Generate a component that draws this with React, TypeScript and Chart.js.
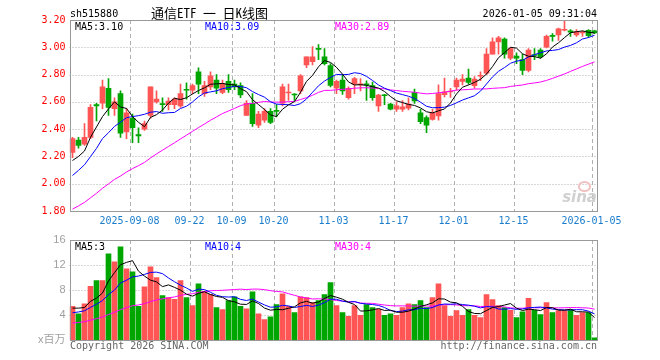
import React, { useEffect, useRef } from "react";
import { Chart, registerables } from "chart.js";

Chart.register(...registerables);

// ---------- data ----------
const dates = [
  "2025-08-25","2025-08-26","2025-08-27","2025-08-28","2025-08-29",
  "2025-09-01","2025-09-02","2025-09-03","2025-09-04","2025-09-05",
  "2025-09-08","2025-09-09","2025-09-10","2025-09-11","2025-09-12",
  "2025-09-15","2025-09-16","2025-09-17","2025-09-18","2025-09-19",
  "2025-09-22","2025-09-23","2025-09-24","2025-09-25","2025-09-26",
  "2025-09-29","2025-09-30",
  "2025-10-09","2025-10-10",
  "2025-10-13","2025-10-14","2025-10-15","2025-10-16","2025-10-17",
  "2025-10-20","2025-10-21","2025-10-22","2025-10-23","2025-10-24",
  "2025-10-27","2025-10-28","2025-10-29","2025-10-30","2025-10-31",
  "2025-11-03","2025-11-04","2025-11-05","2025-11-06","2025-11-07",
  "2025-11-10","2025-11-11","2025-11-12","2025-11-13","2025-11-14",
  "2025-11-17","2025-11-18","2025-11-19","2025-11-20","2025-11-21",
  "2025-11-24","2025-11-25","2025-11-26","2025-11-27","2025-11-28",
  "2025-12-01","2025-12-02","2025-12-03","2025-12-04","2025-12-05",
  "2025-12-08","2025-12-09","2025-12-10","2025-12-11","2025-12-12",
  "2025-12-15","2025-12-16","2025-12-17","2025-12-18","2025-12-19",
  "2025-12-22","2025-12-23","2025-12-24","2025-12-25","2025-12-26",
  "2025-12-29","2025-12-30","2025-12-31",
  "2026-01-05",
];

const tickDates = ["2025-09-08","2025-09-22","2025-10-09","2025-10-20","2025-11-03","2025-11-17","2025-12-01","2025-12-15","2026-01-05"];
const tickTexts = ["2025-09-08","09-22","10-09","10-20","11-03","11-17","12-01","12-15","2026-01-05"];

const opens = [
  2.23,2.32,2.29,2.34,2.58,2.59,2.70,2.55,2.66,2.38,
  2.48,2.36,2.40,2.50,2.60,2.585,2.58,2.58,2.57,2.69,
  2.685,2.82,2.66,2.71,2.76,2.67,2.75,2.73,2.72,2.50,
  2.59,2.43,2.465,2.53,2.535,2.59,2.665,2.655,2.68,2.87,
  2.895,2.99,2.93,2.865,2.70,2.76,2.63,2.73,2.725,2.73,
  2.72,2.57,2.65,2.583,2.546,2.546,2.553,2.67,2.52,2.485,
  2.472,2.497,2.652,2.672,2.71,2.75,2.774,2.718,2.788,2.81,
  2.95,3.04,3.06,2.92,2.935,2.91,2.83,2.945,2.98,3.00,
  3.085,3.09,3.125,3.12,3.09,3.105,3.125,3.12,
];
const closes = [
  2.33,2.28,2.34,2.56,2.57,2.71,2.56,2.60,2.37,2.52,
  2.41,2.35,2.44,2.71,2.62,2.58,2.605,2.62,2.66,2.685,
  2.72,2.73,2.72,2.79,2.70,2.735,2.69,2.71,2.65,2.59,
  2.44,2.51,2.53,2.45,2.53,2.71,2.67,2.65,2.79,2.93,
  2.93,2.985,2.88,2.72,2.75,2.68,2.70,2.77,2.73,2.725,
  2.63,2.65,2.645,2.546,2.57,2.563,2.583,2.607,2.455,2.43,
  2.52,2.66,2.674,2.676,2.76,2.767,2.742,2.767,2.792,2.95,
  3.04,3.07,2.95,2.99,2.92,2.83,2.98,2.94,2.93,3.08,
  3.08,3.135,3.13,3.11,3.115,3.11,3.085,3.105,
];
const highs = [
  2.34,2.34,2.44,2.58,2.59,2.76,2.77,2.63,2.68,2.55,
  2.51,2.41,2.46,2.71,2.68,2.63,2.63,2.63,2.73,2.74,
  2.73,2.85,2.75,2.82,2.80,2.76,2.80,2.76,2.74,2.61,
  2.66,2.53,2.55,2.55,2.58,2.73,2.73,2.66,2.80,2.93,
  3.005,3.02,2.99,2.88,2.76,2.80,2.71,2.78,2.77,2.755,
  2.745,2.655,2.656,2.59,2.60,2.61,2.63,2.693,2.546,2.497,
  2.546,2.725,2.774,2.70,2.775,2.80,2.84,2.785,2.82,2.99,
  3.07,3.08,3.07,3.00,2.96,2.95,2.99,2.99,2.99,3.09,
  3.10,3.14,3.20,3.13,3.13,3.12,3.13,3.125,
];
const lows = [
  2.19,2.26,2.28,2.33,2.46,2.55,2.50,2.50,2.34,2.33,
  2.30,2.30,2.39,2.48,2.59,2.53,2.54,2.55,2.56,2.62,
  2.66,2.66,2.64,2.69,2.66,2.66,2.67,2.69,2.63,2.50,
  2.42,2.41,2.45,2.44,2.49,2.57,2.61,2.61,2.66,2.85,
  2.87,2.91,2.87,2.71,2.66,2.655,2.62,2.66,2.68,2.61,
  2.61,2.53,2.58,2.54,2.53,2.53,2.54,2.588,2.44,2.374,
  2.465,2.465,2.637,2.632,2.685,2.725,2.73,2.70,2.755,2.80,
  2.95,2.95,2.92,2.91,2.88,2.80,2.82,2.91,2.92,2.995,
  3.045,3.05,3.12,3.08,3.08,3.08,3.075,3.10,
];
const volumes = [
  5.4,4.2,5.8,8.6,9.5,9.5,13.8,12.5,14.9,11.4,
  10.9,5.4,8.5,11.7,10.0,7.1,6.8,6.5,9.5,6.8,
  5.5,9.0,7.8,7.3,5.2,4.85,6.3,6.9,5.4,5.0,
  7.7,4.2,3.25,3.7,5.65,7.4,5.4,4.4,6.9,6.8,
  6.0,6.3,7.25,9.2,5.5,4.4,3.8,5.5,3.95,5.65,
  5.2,4.9,3.95,4.2,3.95,5.2,5.8,5.65,6.3,5.2,
  6.8,9.0,5.5,3.8,4.7,3.95,4.85,3.95,3.6,7.25,
  6.45,5.5,5.2,4.75,3.6,4.5,6.65,4.75,4.05,6.0,
  4.4,4.7,4.7,4.85,3.95,4.4,4.4,0.35,
];
// sessions before the visible window (only used to seed the moving averages)
const priorCloses = [
  1.55,1.57,1.56,1.58,1.60,1.59,1.62,1.63,1.64,1.66,
  1.70,1.72,1.74,1.73,1.76,1.79,1.80,1.82,1.86,1.88,
  1.90,1.93,1.96,1.97,1.99,2.13,2.14,2.06,2.19,
];
const priorVolumes = [
  1.6,2.0,1.7,1.9,1.5,1.8,2.1,1.7,1.9,1.8,
  1.8,2.2,1.9,2.1,1.7,2.0,2.3,1.9,2.0,2.1,
  2.8,3.9,3.2,4.4,3.7,4.2,5.3,3.6,7.0,
];

const priceAxisTicks = [1.8, 2.0, 2.2, 2.4, 2.6, 2.8, 3.0, 3.2];
const priceGridValues = [2.0, 2.2, 2.4, 2.6, 2.8, 3.0];
const volAxisTicks = [0, 4, 8, 12, 16];
const volGridValues = [4, 8, 12];
const priceMaLabels = ["MA5:3.10", "MA10:3.09", "MA30:2.89"];
const volMaLabels = ["MA5:3", "MA10:4", "MA30:4"];
const maColors = ["#000000", "#0000ff", "#ff00ff"];
const maPeriods = [5, 10, 30];

const RED = "#ff5555";
const GREEN = "#00a600";
const MONO = '"DejaVu Sans Mono", monospace';

function movingAvg(prior: number[], vals: number[], n: number): number[] {
  const all = prior.concat(vals);
  const off = prior.length;
  return vals.map((_, i) => {
    let s = 0;
    for (let k = 0; k < n; k++) s += all[off + i - k];
    return s / n;
  });
}

const framePlugin = {
  id: "frame",
  beforeDatasetsDraw(chart: any, _a: any, opts: any) {
    const { ctx, chartArea: a, scales } = chart;
    const x = scales.x;
    const y = scales.y;
    ctx.save();
    ctx.lineWidth = 1;
    ctx.strokeStyle = "#b0b0b0";
    ctx.setLineDash([1, 2]);
    for (const v of opts.hLines || []) {
      const py = Math.round(y.getPixelForValue(v)) + 0.5;
      ctx.beginPath();
      ctx.moveTo(a.left, py);
      ctx.lineTo(a.right, py);
      ctx.stroke();
    }
    ctx.setLineDash([4, 3]);
    const half = (x.getPixelForValue(1) - x.getPixelForValue(0)) / 2;
    for (const d of tickDates) {
      const i = dates.indexOf(d);
      const px = Math.round(x.getPixelForValue(i) - half) + 0.5;
      ctx.beginPath();
      ctx.moveTo(px, a.top);
      ctx.lineTo(px, a.bottom);
      ctx.stroke();
    }
    ctx.restore();
  },
  afterDraw(chart: any) {
    const { ctx, chartArea: a } = chart;
    ctx.save();
    ctx.setLineDash([]);
    ctx.strokeStyle = "#999999";
    ctx.lineWidth = 1;
    const l = Math.round(a.left) + 0.5;
    const t = Math.round(a.top) + 0.5;
    const r = Math.round(a.right) - 0.5;
    const b = Math.round(a.bottom) + 0.5;
    ctx.strokeRect(l, t, r - l, b - t);
    ctx.restore();
  },
};

function Txt(props: { x: number; y: number; color?: string; size?: number; right?: boolean; font?: string; children: any; style?: any }) {
  const size = props.size || 10;
  const lh = Math.round(size * 1.25);
  const st: any = {
    position: "absolute",
    top: props.y - lh / 2,
    fontFamily: props.font || MONO,
    fontSize: size,
    lineHeight: lh + "px",
    color: props.color || "#000",
    whiteSpace: "pre",
    ...(props.style || {}),
  };
  if (props.right) st.right = 660 - props.x;
  else st.left = props.x;
  return <div style={st}>{props.children}</div>;
}

export default function App() {
  const priceRef = useRef<HTMLCanvasElement>(null);
  const volRef = useRef<HTMLCanvasElement>(null);

  useEffect(() => {
    const candleColors = closes.map((c, i) => (c >= opens[i] ? RED : GREEN));
    const priceMAs = maPeriods.map((n) => movingAvg(priorCloses, closes, n));
    const volMAs = maPeriods.map((n) => movingAvg(priorVolumes, volumes, n));

    const lineSets = (mas: number[][]) =>
      mas.map((d, k) => ({
        type: "line" as const,
        label: "MA" + maPeriods[k],
        data: d,
        borderColor: maColors[k],
        borderWidth: 1,
        pointRadius: 0,
        tension: 0,
        order: 0,
      }));

    const xBase: any = {
      type: "category",
      offset: true,
      grid: { display: false, drawTicks: false },
      border: { display: false },
    };

    const price = new Chart(priceRef.current!, {
      type: "bar",
      data: {
        labels: dates,
        datasets: [
          ...lineSets(priceMAs),
          {
            type: "bar",
            label: "body",
            data: opens.map((o, i) => [o, closes[i]]),
            backgroundColor: candleColors,
            barThickness: 5,
            minBarLength: 1,
            grouped: false,
            order: 1,
          } as any,
          {
            type: "bar",
            label: "wick",
            data: lows.map((l, i) => [l, highs[i]]),
            backgroundColor: candleColors,
            barThickness: 1,
            grouped: false,
            order: 2,
          } as any,
        ],
      },
      options: {
        responsive: false,
        animation: false,
        events: [],
        layout: { padding: { top: 20, right: 62.5, left: 0, bottom: 0 } },
        plugins: { legend: { display: false }, tooltip: { enabled: false }, frame: { hLines: priceGridValues } } as any,
        scales: {
          x: {
            ...xBase,
            afterFit: (s: any) => { s.height = 21; },
            ticks: {
              autoSkip: false,
              maxRotation: 0,
              minRotation: 0,
              labelOffset: -3,
              padding: 4,
              color: "#1a7ccc",
              font: { family: MONO, size: 10 },
              callback: (_v: any, idx: number) => {
                const k = tickDates.indexOf(dates[idx]);
                return k >= 0 ? tickTexts[k] : "";
              },
            },
          },
          y: {
            min: 1.8,
            max: 3.2,
            grid: { display: false, drawTicks: false },
            border: { display: false },
            afterFit: (s: any) => { s.width = 69.5; },
            afterBuildTicks: (s: any) => { s.ticks = priceAxisTicks.map((v) => ({ value: v })); },
            ticks: {
              padding: 4,
              color: "#ff0000",
              font: { family: MONO, size: 10 },
              callback: (v: any) => Number(v).toFixed(2),
            },
          },
        },
      } as any,
      plugins: [framePlugin as any],
    });

    const vol = new Chart(volRef.current!, {
      type: "bar",
      data: {
        labels: dates,
        datasets: [
          ...lineSets(volMAs),
          {
            type: "bar",
            label: "volume",
            data: volumes,
            backgroundColor: candleColors,
            barThickness: 5,
            grouped: false,
            order: 1,
          } as any,
        ],
      },
      options: {
        responsive: false,
        animation: false,
        events: [],
        layout: { padding: { top: 12, right: 62.5, left: 0, bottom: 20 } },
        plugins: { legend: { display: false }, tooltip: { enabled: false }, frame: { hLines: volGridValues } } as any,
        scales: {
          x: { ...xBase, display: false },
          y: {
            min: 0,
            max: 16,
            grid: { display: false, drawTicks: false },
            border: { display: false },
            afterFit: (s: any) => { s.width = 69.5; },
            afterBuildTicks: (s: any) => { s.ticks = volAxisTicks.map((v) => ({ value: v })); },
            ticks: {
              padding: 4,
              color: "#a0a0a0",
              font: { family: '"Liberation Sans", "Noto Sans CJK SC", sans-serif', size: 11 },
              callback: (v: any) => (Number(v) === 0 ? "x百万" : String(v)),
            },
          },
        },
      } as any,
      plugins: [framePlugin as any],
    });

    return () => {
      price.destroy();
      vol.destroy();
    };
  }, []);

  const maX = [75, 205, 335];

  return (
    <div style={{ position: "relative", width: 660, height: 360, background: "#fff", overflow: "hidden" }}>
      <style>{"body{margin:0;background:#fff}"}</style>
      <canvas ref={priceRef} width={660} height={232} style={{ position: "absolute", left: 0, top: 0, width: 660, height: 232 }} />
      <canvas ref={volRef} width={660} height={132} style={{ position: "absolute", left: 0, top: 228, width: 660, height: 132 }} />

      <Txt x={70} y={13}>sh515880</Txt>
      <Txt x={151} y={12.5} size={13} font='"Noto Sans Mono CJK SC", "Noto Sans CJK SC", sans-serif'>通信ETF 一 日K线图</Txt>
      <Txt x={597} y={13} right>2026-01-05 09:31:04</Txt>

      {priceMaLabels.map((t, k) => (
        <Txt key={"p" + k} x={maX[k]} y={26} color={maColors[k]}>{t}</Txt>
      ))}
      {volMaLabels.map((t, k) => (
        <Txt key={"v" + k} x={maX[k]} y={246.5} color={maColors[k]}>{t}</Txt>
      ))}

      <Txt x={70} y={345.5} color="#666">Copyright 2026 SINA.COM</Txt>
      <Txt x={597} y={345.5} right color="#666">http://finance.sina.com.cn</Txt>

      <div style={{ position: "absolute", left: 578, top: 181, width: 9, height: 7, borderRadius: "50%", border: "2px solid #f3c0c0" }} />
      <Txt x={597} y={197} right size={15} color="#d0d0d0" font='"DejaVu Sans", sans-serif' style={{ fontStyle: "italic", fontWeight: "bold" }}>sina</Txt>
    </div>
  );
}
